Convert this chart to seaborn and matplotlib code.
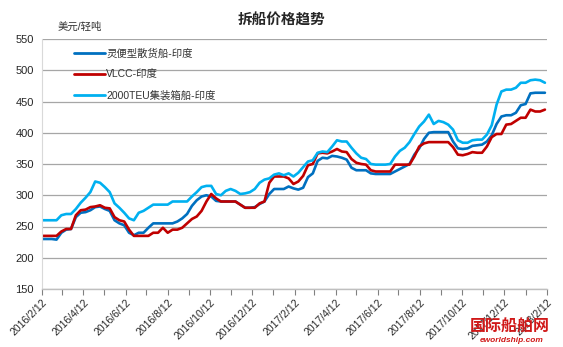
import numpy as np
import pandas as pd
import matplotlib
matplotlib.use("Agg")
import matplotlib.pyplot as plt
import matplotlib.dates as mdates
import seaborn as sns

# ---------------- data (weekly) ----------------
start_date = "2016-02-12"
n_weeks = 105

handysize = [230, 230, 230, 229, 240, 245, 246, 265, 272, 273,
             276, 281, 282, 278, 275, 260, 255, 252, 240, 236,
             240, 240, 248, 255, 255, 255, 255, 255, 258, 263,
             270, 283, 292, 298, 300, 298, 291, 290, 290, 290,
             290, 285, 280, 280, 281, 286, 290, 302, 310, 310,
             310, 314, 311, 309, 312, 329, 335, 355, 360, 359,
             363, 362, 360, 357, 344, 340, 340, 340, 335, 334,
             334, 334, 334, 338, 342, 346, 350, 365, 375, 390,
             400, 401, 401, 401, 401, 386, 375, 374, 375, 379,
             380, 381, 386, 396, 414, 426, 428, 428, 432, 444,
             446, 463, 464, 464, 464]

vlcc = [235, 235, 235, 235, 242, 246, 246, 268, 276, 277,
        281, 282, 284, 280, 279, 265, 260, 258, 245, 235,
        235, 235, 235, 240, 240, 248, 240, 245, 245, 248,
        255, 262, 266, 275, 290, 302, 295, 290, 290, 290,
        290, 285, 280, 280, 280, 287, 290, 320, 330, 330,
        330, 327, 318, 322, 331, 348, 350, 367, 368, 367,
        370, 374, 370, 369, 358, 352, 350, 349, 340, 338,
        338, 338, 338, 349, 349, 349, 349, 362, 378, 383,
        385, 385, 385, 385, 385, 377, 365, 364, 366, 369,
        368, 368, 378, 393, 398, 398, 413, 414, 419, 424,
        424, 437, 434, 434, 437]

teu2000 = [260, 260, 260, 260, 268, 270, 270, 278, 288, 296,
           305, 322, 320, 313, 305, 287, 280, 272, 263, 260,
           272, 275, 280, 285, 285, 285, 285, 290, 290, 290,
           290, 298, 305, 313, 315, 315, 302, 300, 307, 310,
           307, 302, 303, 305, 310, 320, 325, 327, 333, 335,
           332, 335, 330, 336, 345, 354, 356, 368, 370, 369,
           378, 388, 386, 386, 376, 367, 360, 358, 350, 349,
           349, 349, 350, 362, 371, 376, 385, 398, 410, 418,
           429, 414, 419, 417, 413, 405, 388, 384, 384, 388,
           389, 389, 397, 412, 445, 466, 469, 469, 472, 480,
           480, 484, 485, 484, 480]

series_names = ["灵便型散货船-印度", "VLCC-印度", "2000TEU集装箱船-印度"]
series_colors = ["#0070C0", "#C00000", "#00B0F0"]
title_text = "拆船价格趋势"
unit_text = "美元/轻吨"

dates = pd.date_range(start_date, periods=n_weeks, freq="7D")
df = pd.DataFrame({
    "date": np.tile(dates, 3),
    "value": handysize + vlcc + teu2000,
    "series": np.repeat(series_names, n_weeks),
})

# ---------------- style ----------------
sns.set_style("white")
plt.rcParams["font.family"] = ["Liberation Sans", "Noto Sans CJK SC", "DejaVu Sans"]

fig = plt.figure(figsize=(5.63, 3.47), dpi=100)
ax = fig.add_axes([42 / 563, 1 - 289 / 347, (547 - 42) / 563, (289 - 39) / 347])

sns.lineplot(data=df, x="date", y="value", hue="series",
             hue_order=series_names, palette=series_colors,
             linewidth=1.9, ax=ax, legend=True)

ax.set_ylim(150, 550)
ax.set_yticks(range(150, 551, 50))
ax.set_xlim(pd.Timestamp("2016-02-12"), pd.Timestamp("2018-02-12"))

ax.xaxis.set_major_locator(mdates.MonthLocator(bymonth=range(2, 13, 2), bymonthday=12))
ax.xaxis.set_minor_locator(mdates.MonthLocator(bymonthday=12))
ax.xaxis.set_major_formatter(
    matplotlib.ticker.FuncFormatter(
        lambda x, pos: (lambda d: f"{d.year}/{d.month}/{d.day}")(mdates.num2date(x))))

ax.grid(axis="y", color="#a6a6a6", linewidth=0.9)
ax.grid(axis="x", visible=False)
ax.set_axisbelow(True)

for s in ["top", "right"]:
    ax.spines[s].set_visible(False)
ax.spines["left"].set_color("#d9d9d9")
ax.spines["bottom"].set_color("#bfbfbf")
ax.spines["bottom"].set_linewidth(1.0)

ax.tick_params(axis="x", which="both", direction="out", length=4, width=0.8,
               color="#808080", bottom=True, labelsize=7.5, pad=2)
ax.tick_params(axis="y", length=0, labelsize=8, pad=6)
plt.setp(ax.get_xticklabels(), rotation=45, ha="right", rotation_mode="anchor")

ax.set_xlabel("")
ax.set_ylabel("")

leg = ax.legend(loc="upper left", bbox_to_anchor=(0.055, 0.98), frameon=False,
                fontsize=7.5, handlelength=3.0, handletextpad=0.1,
                labelspacing=1.05, borderaxespad=0)
for line in leg.get_lines():
    line.set_linewidth(2.0)
for t in leg.get_texts():
    t.set_color("#333333")

fig.text(282 / 563, 1 - 20 / 347, title_text, ha="center", va="center",
         fontsize=10.5, fontweight="bold")
fig.text(58 / 563, 1 - 27 / 347, unit_text, ha="left", va="center",
         fontsize=7.5, color="#333333")

# watermark
fig.text(510 / 563, 1 - 327 / 347, "国际船舶网", ha="center", va="center",
         fontsize=11.5, fontweight="bold", color="#d01818")
fig.text(512 / 563, 1 - 341 / 347, "eworldship.com", ha="center", va="center",
         fontsize=6, fontweight="bold", color="#d01818", style="italic")

fig.savefig("out.png", dpi=100)
